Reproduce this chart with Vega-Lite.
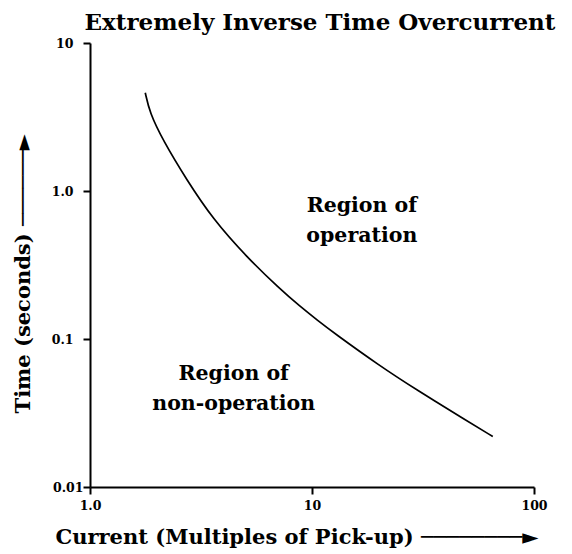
{
  "$schema": "https://vega.github.io/schema/vega-lite/v6.json",
  "width": 444,
  "height": 444,
  "autosize": "none",
  "padding": {"left": 90, "top": 43, "right": 38, "bottom": 67},
  "background": "white",
  "config": {"view": {"stroke": null}, "font": "DejaVu Serif"},
  "title": {
    "text": "Extremely Inverse Time Overcurrent",
    "font": "DejaVu Serif",
    "fontSize": 23,
    "fontWeight": "bold",
    "color": "black",
    "anchor": "middle",
    "dx": 8,
    "offset": -16,
    "baseline": "alphabetic"
  },
  "datasets": {
    "curve": [
      {"current": 1.774, "time": 4.61},
      {"current": 1.855, "time": 3.4},
      {"current": 2.131, "time": 2.2},
      {"current": 2.716, "time": 1.2},
      {"current": 3.58, "time": 0.645},
      {"current": 5.065, "time": 0.36},
      {"current": 7.16, "time": 0.218},
      {"current": 8.81, "time": 0.1666},
      {"current": 10.62, "time": 0.1332},
      {"current": 12.45, "time": 0.1108},
      {"current": 20.22, "time": 0.0657},
      {"current": 29.6, "time": 0.0453},
      {"current": 49.8, "time": 0.028},
      {"current": 65.2, "time": 0.02195}
    ],
    "labels": [
      {"current": 16.77, "time": 0.72, "label": "Region of\noperation"},
      {"current": 4.44, "time": 0.0526, "label": "Region of\nnon-operation"}
    ]
  },
  "layer": [
    {
      "data": {"name": "curve"},
      "mark": {"type": "line", "color": "black", "strokeWidth": 1.7, "interpolate": "basis"},
      "encoding": {
        "x": {
          "field": "current",
          "type": "quantitative",
          "scale": {"type": "log", "domain": [1, 100]},
          "axis": {
            "values": [1, 10, 100],
            "labelExpr": "datum.value == 1 ? '1.0' : datum.value == 10 ? '10' : '100'",
            "grid": false,
            "domainColor": "black",
            "domainWidth": 2,
            "tickColor": "black",
            "tickWidth": 2,
            "tickSize": 7,
            "labelFont": "DejaVu Serif",
            "labelFontWeight": "bold",
            "labelFontSize": 12.5,
            "labelColor": "black",
            "labelPadding": 5,
            "labelFlush": false,
            "labelOverlap": false,
            "title": "Current (Multiples of Pick-up) ────────►",
            "titleFont": "DejaVu Serif",
            "titleFontSize": 21,
            "titleFontWeight": "bold",
            "titleColor": "black",
            "titleX": -35,
            "titleY": 56,
            "titleAlign": "left",
            "titleBaseline": "alphabetic"
          }
        },
        "y": {
          "field": "time",
          "type": "quantitative",
          "scale": {"type": "log", "domain": [0.01, 10]},
          "axis": {
            "values": [0.01, 0.1, 1, 10],
            "labelExpr": "datum.value == 10 ? '10' : datum.value == 1 ? '1.0' : datum.value > 0.05 ? '0.1' : '0.01'",
            "grid": false,
            "domainColor": "black",
            "domainWidth": 2,
            "tickColor": "black",
            "tickWidth": 2,
            "tickSize": 7,
            "labelFont": "DejaVu Serif",
            "labelFontWeight": "bold",
            "labelFontSize": 12.5,
            "labelColor": "black",
            "labelPadding": {"condition": {"test": "datum.value < 0.05", "value": 0}, "value": 10},
            "labelFlush": false,
            "labelOverlap": false,
            "labelBaseline": "middle",
            "title": "Time (seconds) ──────►",
            "titleFont": "DejaVu Serif",
            "titleFontSize": 21,
            "titleFontWeight": "bold",
            "titleColor": "black",
            "titleAngle": -90,
            "titleX": -67,
            "titleY": 370,
            "titleAlign": "left",
            "titleBaseline": "middle"
          }
        }
      }
    },
    {
      "data": {"name": "labels"},
      "mark": {
        "type": "text",
        "font": "DejaVu Serif",
        "fontWeight": "bold",
        "fontSize": 20.5,
        "lineHeight": 30,
        "lineBreak": "\n",
        "align": "center",
        "baseline": "alphabetic",
        "color": "black"
      },
      "encoding": {
        "x": {"field": "current", "type": "quantitative"},
        "y": {"field": "time", "type": "quantitative"},
        "text": {"field": "label"}
      }
    }
  ]
}
